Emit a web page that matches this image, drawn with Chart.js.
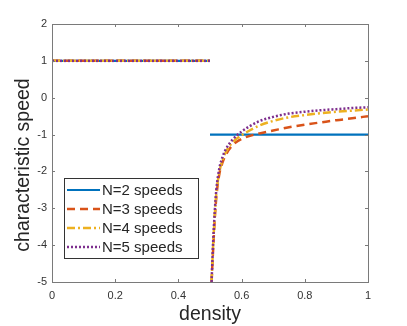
<!DOCTYPE html>
<html>
<head>
<meta charset="utf-8">
<script src="https://cdn.jsdelivr.net/npm/chart.js@4.4.1/dist/chart.umd.min.js"></script>
<style>
  html, body { margin: 0; padding: 0; background: #fff; }
  #wrap { width: 407px; height: 326px; }
</style>
</head>
<body>
<div id="wrap"><canvas id="chart1" width="407" height="326"></canvas></div>
<script>
// series labels
const seriesLabels = ['N=2 speeds', 'N=3 speeds', 'N=4 speeds', 'N=5 speeds'];

// left branch (density below 0.5), same for all series
const leftDensity = [0, 0.5];
const leftSpeed = [1, 1];

// N=2 right branch
const n2Density = [0.5, 1];
const n2Speed = [-1, -1];

// N=3..5 right branch
const curveDensity = [0.505, 0.51, 0.515, 0.52, 0.53, 0.54, 0.55, 0.57, 0.6, 0.65, 0.7, 0.75, 0.8, 0.85, 0.9, 0.95, 1];
const n3Speed = [-5, -4.1, -3.3, -2.7, -2.05, -1.75, -1.55, -1.3, -1.12, -0.98, -0.89, -0.8, -0.73, -0.67, -0.61, -0.56, -0.5];
const n4Speed = [-5, -4.0, -3.2, -2.6, -2.0, -1.68, -1.48, -1.22, -1.02, -0.78, -0.63, -0.53, -0.47, -0.42, -0.38, -0.35, -0.32];
const n5Speed = [-5, -3.9, -3.1, -2.5, -1.9, -1.6, -1.4, -1.15, -0.92, -0.66, -0.52, -0.43, -0.38, -0.34, -0.31, -0.28, -0.26];

// axis ticks
const xTicks = [0, 0.2, 0.4, 0.6, 0.8, 1];
const yTicks = [-5, -4, -3, -2, -1, 0, 1, 2];

const colors = ['#0072BD', '#D95319', '#EDB120', '#7E2F8E'];
const dashes = [[], [8, 5], [8, 3, 2, 3], [2, 2]];

const toPoints = (xs, ys) => xs.map((x, i) => ({ x: x, y: ys[i] }));
const rights = [[n2Density, n2Speed], [curveDensity, n3Speed], [curveDensity, n4Speed], [curveDensity, n5Speed]];

const style = i => ({
  borderColor: colors[i],
  backgroundColor: colors[i],
  borderDash: dashes[i],
  borderWidth: i === 0 ? 2.2 : 2.5,
  pointRadius: 0,
  fill: false,
  order: 3 - i // later series drawn on top
});

// right branches carry the legend entries, left branches are plain copies
const datasets = rights.map((r, i) => Object.assign({
  label: seriesLabels[i],
  data: toPoints(r[0], r[1]),
  cubicInterpolationMode: i === 0 ? 'default' : 'monotone'
}, style(i))).concat(rights.map((r, i) => Object.assign({
  label: '',
  data: toPoints(leftDensity, leftSpeed)
}, style(i))));

const axisColor = '#7a7a7a';
const fontFamily = '"Liberation Sans", Arial, sans-serif';

// box, inward ticks, y title and in-plot legend (MATLAB style)
const boxPlugin = {
  id: 'boxPlugin',
  afterDraw(chart) {
    const ctx = chart.ctx;
    const a = chart.chartArea;
    const xs = chart.scales.x, ys = chart.scales.y;
    ctx.save();
    ctx.strokeStyle = axisColor;
    ctx.lineWidth = 1;
    ctx.strokeRect(a.left + 0.5, a.top + 0.5, a.right - a.left, a.bottom - a.top);
    const len = 3;
    ctx.beginPath();
    xTicks.forEach(v => {
      const px = Math.round(xs.getPixelForValue(v)) + 0.5;
      ctx.moveTo(px, a.bottom); ctx.lineTo(px, a.bottom - len);
      ctx.moveTo(px, a.top); ctx.lineTo(px, a.top + len);
    });
    yTicks.forEach(v => {
      const py = Math.round(ys.getPixelForValue(v)) + 0.5;
      ctx.moveTo(a.left, py); ctx.lineTo(a.left + len, py);
      ctx.moveTo(a.right, py); ctx.lineTo(a.right - len, py);
    });
    ctx.stroke();

    // y axis title
    ctx.save();
    ctx.translate(24, 165);
    ctx.rotate(-Math.PI / 2);
    ctx.font = '19.5px ' + fontFamily;
    ctx.fillStyle = '#262626';
    ctx.textAlign = 'center';
    ctx.textBaseline = 'middle';
    ctx.fillText('characteristic speed', 0, 0);
    ctx.restore();

    // legend
    const lx = 64.5, ly = 178.5, lw = 134, lh = 80;
    ctx.fillStyle = '#fff';
    ctx.fillRect(lx, ly, lw, lh);
    ctx.strokeStyle = '#333';
    ctx.lineWidth = 1;
    ctx.strokeRect(lx, ly, lw, lh);
    ctx.font = '15px ' + fontFamily;
    ctx.textBaseline = 'middle';
    chart.data.datasets.filter(ds => ds.label).forEach((ds, i) => {
      const y = 190 + i * 19;
      ctx.beginPath();
      ctx.strokeStyle = ds.borderColor;
      ctx.lineWidth = ds.borderWidth;
      ctx.setLineDash(ds.borderDash);
      ctx.moveTo(67, y); ctx.lineTo(100, y);
      ctx.stroke();
      ctx.setLineDash([]);
      ctx.fillStyle = '#262626';
      ctx.fillText(ds.label, 102, y + 1);
    });
    ctx.restore();
  }
};

new Chart(document.getElementById('chart1').getContext('2d'), {
  type: 'line',
  data: { datasets: datasets },
  options: {
    responsive: false,
    animation: false,
    events: [],
    layout: { padding: { top: 24, right: 39, left: 0, bottom: 0 } },
    plugins: { legend: { display: false }, tooltip: { enabled: false } },
    scales: {
      x: {
        type: 'linear',
        min: 0, max: 1,
        afterFit: s => { s.height = 44; },
        afterBuildTicks: s => { s.ticks = xTicks.map(v => ({ value: v })); },
        grid: { display: false, drawTicks: false },
        border: { display: false },
        ticks: { color: '#333', padding: 7, font: { family: fontFamily, size: 11 },
          callback: v => String(v) },
        title: { display: true, text: 'density', color: '#262626', padding: 0,
          font: { family: fontFamily, size: 19.5 } }
      },
      y: {
        type: 'linear',
        min: -5, max: 2,
        afterFit: s => { s.width = 52; },
        afterBuildTicks: s => { s.ticks = yTicks.map(v => ({ value: v })); },
        grid: { display: false, drawTicks: false },
        border: { display: false },
        ticks: { color: '#333', padding: 5, font: { family: fontFamily, size: 11 },
          callback: v => String(v) }
      }
    }
  },
  plugins: [boxPlugin]
});
</script>
</body>
</html>
